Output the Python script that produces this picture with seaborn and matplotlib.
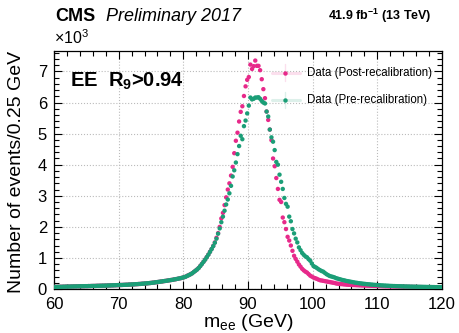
import numpy as np
import pandas as pd
import seaborn as sns
import matplotlib
matplotlib.use("Agg")
import matplotlib.pyplot as plt
from matplotlib.ticker import MultipleLocator
from matplotlib.lines import Line2D

# ---------------- data ----------------
mass_start = 60.0      # GeV, lower edge of first bin
bin_width = 0.25       # GeV

series_names = ["Data (Post-recalibration)", "Data (Pre-recalibration)"]

# events per 0.25 GeV bin, 60-120 GeV (240 bins)
post_recal = [
    68, 70, 71, 72, 73, 74, 76, 77, 78, 80, 79, 82, 83, 85, 86, 87,
    88, 90, 91, 92, 94, 95, 97, 98, 99, 101, 103, 104, 106, 107, 108, 110,
    111, 113, 116, 117, 119, 122, 124, 126, 128, 130, 133, 135, 137, 140, 143, 145,
    148, 152, 155, 158, 162, 166, 170, 174, 178, 183, 189, 194, 200, 207, 213, 221,
    228, 235, 243, 250, 258, 266, 274, 283, 290, 300, 309, 319, 330, 340, 352, 366,
    380, 400, 428, 452, 480, 510, 550, 590, 630, 680, 745, 810, 880, 950, 1030, 1110,
    1200, 1290, 1390, 1500, 1650, 1800, 2000, 2270, 2450, 2700, 2950, 3200, 3400, 3650, 3930, 4370,
    4770, 5030, 5390, 5700, 5880, 6210, 6520, 6730, 6820, 7220, 7080, 7170, 7350, 7180, 7180, 7040,
    6750, 6430, 6140, 5710, 5440, 5130, 4790, 4200, 3950, 3570, 3220, 2870, 2800, 2300, 2150, 1930,
    1680, 1560, 1400, 1230, 1070, 970, 880, 790, 720, 650, 600, 560, 530, 480, 430, 400,
    370, 350, 330, 305, 285, 275, 265, 255, 245, 235, 225, 215, 205, 195, 180, 172,
    165, 160, 155, 150, 145, 140, 137, 134, 131, 128, 125, 123, 120, 118, 116, 114,
    112, 110, 108, 106, 104, 102, 100, 98, 96, 94, 92, 90, 88, 87, 86, 85,
    83, 82, 81, 80, 78, 77, 76, 75, 74, 73, 72, 71, 70, 69, 68, 67,
    66, 65, 64, 63, 62, 61, 60, 59, 58, 58, 57, 56, 55, 55, 54, 53,
]

pre_recal = [
    70, 69, 72, 73, 72, 75, 76, 78, 79, 79, 81, 82, 84, 84, 86, 88,
    89, 89, 92, 93, 93, 96, 96, 99, 100, 100, 103, 105, 105, 108, 109, 110,
    112, 114, 115, 118, 120, 121, 125, 127, 129, 131, 132, 136, 138, 139, 144, 146,
    149, 151, 156, 159, 163, 165, 171, 175, 179, 184, 188, 195, 201, 206, 214, 222,
    229, 236, 242, 252, 259, 265, 275, 282, 292, 299, 311, 320, 331, 341, 353, 367,
    382, 398, 425, 450, 478, 508, 548, 588, 628, 678, 740, 806, 875, 945, 1025, 1105,
    1195, 1285, 1380, 1490, 1620, 1780, 1950, 2150, 2330, 2520, 2720, 2880, 3080, 3320, 3620, 3820,
    4070, 4340, 4600, 4930, 4820, 5240, 5420, 5650, 5900, 6160, 6100, 6120, 6160, 6160, 6170, 6120,
    6050, 6000, 5970, 5710, 5550, 5130, 4880, 4740, 4470, 4090, 4000, 3680, 3450, 3220, 2930, 2740,
    2650, 2330, 2180, 1930, 1790, 1620, 1500, 1340, 1250, 1160, 1100, 1050, 1020, 960, 910, 820,
    740, 710, 680, 640, 610, 580, 560, 520, 480, 450, 420, 405, 390, 375, 350, 335,
    320, 305, 290, 280, 265, 255, 245, 235, 225, 215, 205, 198, 190, 183, 176, 170,
    164, 158, 153, 148, 143, 138, 134, 130, 126, 122, 118, 115, 112, 109, 106, 103,
    100, 98, 96, 94, 92, 90, 88, 86, 84, 82, 81, 80, 78, 77, 76, 75,
    74, 73, 72, 71, 70, 69, 68, 67, 66, 65, 64, 63, 62, 62, 61, 60,
]

x_ticks = [60, 70, 80, 90, 100, 110, 120]
y_ticks = [0, 1, 2, 3, 4, 5, 6, 7]

# ---------------- style ----------------
sns.set_theme(style="white")
plt.rcParams["font.family"] = ["Liberation Sans", "DejaVu Sans"]
plt.rcParams["mathtext.fontset"] = "custom"
plt.rcParams["mathtext.rm"] = "Liberation Sans"
plt.rcParams["mathtext.it"] = "Liberation Sans:italic"
plt.rcParams["mathtext.bf"] = "Liberation Sans:bold"
for key in ["text.color", "axes.labelcolor", "xtick.color", "ytick.color", "axes.edgecolor"]:
    plt.rcParams[key] = "black"

dark2 = sns.color_palette("Dark2")
pink, green = dark2[3], dark2[0]
palette = {series_names[0]: pink, series_names[1]: green}

centers = mass_start + bin_width * (np.arange(len(post_recal)) + 0.5)
df = pd.concat([
    pd.DataFrame({"mass": centers, "events": np.array(post_recal) / 1000.0, "sample": series_names[0]}),
    pd.DataFrame({"mass": centers, "events": np.array(pre_recal) / 1000.0, "sample": series_names[1]}),
], ignore_index=True)

fig = plt.figure(figsize=(4.59, 3.33), dpi=100)
ax = fig.add_axes([0.1176, 0.132, 0.8454, 0.716])

sns.scatterplot(data=df, x="mass", y="events", hue="sample", palette=palette,
                s=10, linewidth=0, legend=False, ax=ax, zorder=3)

ax.set_xlim(60, 120)
ax.set_ylim(0, 7.67)
ax.set_xticks(x_ticks)
ax.set_yticks(y_ticks)
ax.xaxis.set_minor_locator(MultipleLocator(2))
ax.yaxis.set_minor_locator(MultipleLocator(0.2))
ax.tick_params(which="both", direction="in", top=True, right=True,
               bottom=True, left=True, color="black", labelcolor="black")
ax.tick_params(which="major", length=6, width=0.8, labelsize=12)
ax.tick_params(axis="x", which="major", pad=6)
ax.tick_params(axis="y", which="major", pad=5)
ax.tick_params(which="minor", length=3.5, width=0.8)
ax.grid(True, which="major", linestyle=":", color="#bbbbbb", linewidth=0.8)
for sp in ax.spines.values():
    sp.set_color("black")
    sp.set_linewidth(0.9)

ax.set_xlabel(r"m$_{\mathrm{ee}}$ (GeV)", fontsize=14, color="black")
ax.set_ylabel("Number of events/0.25 GeV", fontsize=14, color="black")
ax.xaxis.set_label_coords(0.5, -0.095)
ax.yaxis.set_label_coords(-0.075, 0.49)

# headers
fig.text(0.12, 0.938, "CMS", fontsize=13, fontweight="bold", va="baseline", ha="left", color="black")
fig.text(0.231, 0.938, "Preliminary 2017", fontsize=13, style="italic", va="baseline", ha="left",
         color="black")
fig.text(0.941, 0.941, r"41.9 fb$^{\mathbf{-1}}$ (13 TeV)", fontsize=9, fontweight="bold",
         va="baseline", ha="right", color="black")
fig.text(0.118, 0.868, r"$\times$10$^{3}$", fontsize=11.5, va="baseline", ha="left", color="black")

ax.text(0.041, 0.85, r"EE  R$_{\mathbf{9}}$>0.94", transform=ax.transAxes,
        fontsize=14.5, fontweight="bold", va="baseline", ha="left", color="black")

# legend
for name, yy in zip(series_names, [0.908, 0.793]):
    c = palette[name]
    ax.add_line(Line2D([0.562, 0.634], [yy, yy], transform=ax.transAxes,
                       color=c, alpha=0.15, lw=2.2, zorder=4))
    ax.add_line(Line2D([0.595, 0.595], [yy - 0.034, yy + 0.034], transform=ax.transAxes,
                       color=c, alpha=0.15, lw=1.0, zorder=4))
    ax.add_line(Line2D([0.595], [yy], transform=ax.transAxes, marker="o", ms=3.2,
                       color=c, mew=0, lw=0, zorder=5))
    ax.text(0.652, yy, name, transform=ax.transAxes, fontsize=8.3, va="center", ha="left",
            color="black")

fig.savefig("out.png", dpi=100)
